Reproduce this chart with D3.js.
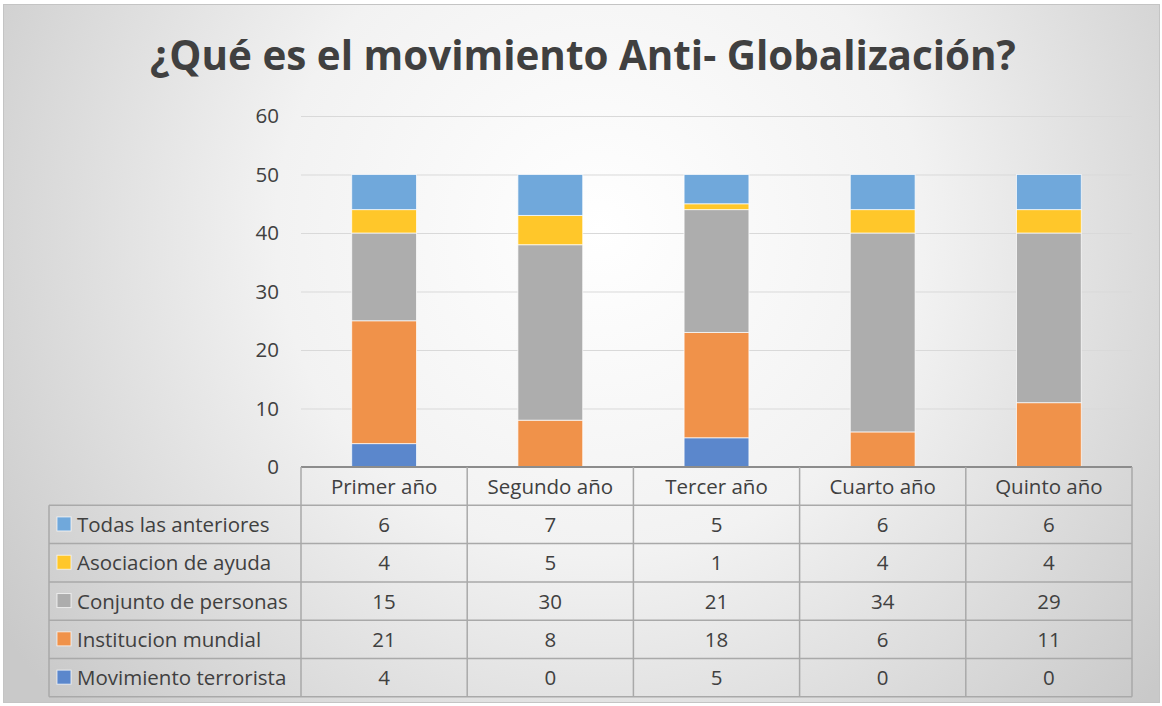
<!DOCTYPE html>
<html>
<head>
<meta charset="utf-8">
<script src="https://cdn.jsdelivr.net/npm/d3@7"></script>
<style>
  body { margin: 0; background: #fff; }
  svg text { font-family: "Open Sans", "Noto Sans", sans-serif; }
</style>
</head>
<body>
<svg id="chart" width="1162" height="706"></svg>
<script>
// data
var title = "¿Qué es el movimiento Anti- Globalización?";
var years = ["Primer año", "Segundo año", "Tercer año", "Cuarto año", "Quinto año"];
// bottom to top in the stack
var series_names = ["Movimiento terrorista", "Institucion mundial", "Conjunto de personas", "Asociacion de ayuda", "Todas las anteriores"];
var movimiento = [4, 0, 5, 0, 0];
var institucion = [21, 8, 18, 6, 11];
var conjunto = [15, 30, 21, 34, 29];
var asociacion = [4, 5, 1, 4, 4];
var todas = [6, 7, 5, 6, 6];
var y_ticks = [0, 10, 20, 30, 40, 50, 60];

var colors = ["#5b87cc", "#f0924a", "#adadad", "#ffc72a", "#70a8db"];
var all_values = [movimiento, institucion, conjunto, asociacion, todas];

var svg = d3.select("#chart");
var W = 1162, H = 706;
var fs = 20.5; // table / label font size

// background: radial gradient like the office chart style
var defs = svg.append("defs");
var grad = defs.append("radialGradient").attr("id", "bg")
  .attr("gradientUnits", "userSpaceOnUse")
  .attr("cx", 600).attr("cy", 230).attr("r", 720);
grad.append("stop").attr("offset", "0%").attr("stop-color", "#ffffff");
grad.append("stop").attr("offset", "45%").attr("stop-color", "#f2f2f2");
grad.append("stop").attr("offset", "100%").attr("stop-color", "#c9c9c9");

svg.append("rect").attr("x", 3.5).attr("y", 4.5).attr("width", 1156).attr("height", 698)
  .attr("fill", "url(#bg)").attr("stroke", "#c4c4c4").attr("stroke-width", 1);

// title
var t = svg.append("text").attr("x", 583).attr("y", 70)
  .attr("text-anchor", "middle")
  .attr("fill", "#404040")
  .style("font-weight", "bold")
  .style("font-size", "40px")
  .text(title);
// squeeze to the reference width
var want = 866;
var got = t.node().getComputedTextLength();
t.style("font-size", (40 * want / got).toFixed(2) + "px");

// plot area
var left = 301, right = 1132, top_y = 116, base_y = 467;
var x = d3.scaleBand().domain(years).range([left, right]);
var y = d3.scaleLinear().domain([0, 60]).range([base_y, top_y]);

// gridlines
svg.append("g").selectAll("line").data(y_ticks.slice(1)).join("line")
  .attr("x1", left).attr("x2", right)
  .attr("y1", function(d) { return y(d) + 0.5; })
  .attr("y2", function(d) { return y(d) + 0.5; })
  .attr("stroke", "#d9d9d9").attr("stroke-width", 1);

// y labels
var yAxis = d3.axisLeft(y).tickValues(y_ticks).tickSize(0).tickPadding(0);
var ya = svg.append("g").attr("transform", "translate(279,0)").call(yAxis);
ya.select(".domain").remove();
ya.selectAll("text")
  .style("font-family", "'Open Sans', 'Noto Sans', sans-serif")
  .style("font-size", fs + "px")
  .attr("fill", "#404040");

// stacked bars
var rows = years.map(function(yr, i) {
  var r = { year: yr };
  series_names.forEach(function(s, k) { r[s] = all_values[k][i]; });
  return r;
});
var stack = d3.stack().keys(series_names)(rows);
var bw = x.bandwidth() * 0.39;

svg.append("g").selectAll("g").data(stack).join("g")
  .attr("fill", function(d, k) { return colors[k]; })
  .selectAll("rect").data(function(d) { return d; }).join("rect")
  .attr("x", function(d) { return x(d.data.year) + (x.bandwidth() - bw) / 2; })
  .attr("width", bw)
  .attr("y", function(d) { return y(d[1]); })
  .attr("height", function(d) { return Math.max(0, y(d[0]) - y(d[1])); })
  .attr("stroke", "rgba(255,255,255,0.7)")
  .attr("stroke-width", 1);

// data table
var row_h = 38.3;
var tbl_left = 49, head_top = base_y, body_top = base_y + row_h;
var table_rows = series_names.slice().reverse();
var grid_col = "#a9a9a9";
var tg = svg.append("g");

// horizontal lines
tg.append("line").attr("x1", left).attr("x2", right).attr("y1", head_top).attr("y2", head_top)
  .attr("stroke", "#8c8c8c").attr("stroke-width", 2);
d3.range(table_rows.length + 1).forEach(function(i) {
  tg.append("line").attr("x1", tbl_left).attr("x2", right)
    .attr("y1", body_top + i * row_h).attr("y2", body_top + i * row_h)
    .attr("stroke", grid_col).attr("stroke-width", 1.5);
});
// vertical lines
tg.append("line").attr("x1", tbl_left).attr("x2", tbl_left)
  .attr("y1", body_top).attr("y2", body_top + table_rows.length * row_h)
  .attr("stroke", grid_col).attr("stroke-width", 1.5);
years.forEach(function(yr) {
  tg.append("line").attr("x1", x(yr)).attr("x2", x(yr))
    .attr("y1", head_top).attr("y2", body_top + table_rows.length * row_h)
    .attr("stroke", grid_col).attr("stroke-width", 1.5);
});
tg.append("line").attr("x1", right).attr("x2", right)
  .attr("y1", head_top).attr("y2", body_top + table_rows.length * row_h)
  .attr("stroke", grid_col).attr("stroke-width", 1.5);

// header
tg.selectAll("text.head").data(years).join("text").attr("class", "head")
  .attr("x", function(d) { return x(d) + x.bandwidth() / 2; })
  .attr("y", head_top + row_h / 2 + 7.5)
  .attr("text-anchor", "middle")
  .attr("fill", "#404040")
  .style("font-size", fs + "px")
  .text(function(d) { return d; });

// body rows
table_rows.forEach(function(name, r) {
  var k = series_names.indexOf(name);
  var cy = body_top + r * row_h + row_h / 2;
  tg.append("rect").attr("x", 57).attr("y", cy - 7.5).attr("width", 14).attr("height", 14)
    .attr("fill", colors[k]).attr("stroke", "rgba(255,255,255,0.7)").attr("stroke-width", 1);
  tg.append("text").attr("x", 77).attr("y", cy + 7.5)
    .attr("fill", "#404040").style("font-size", fs + "px").text(name);
  tg.selectAll("text.v" + k).data(all_values[k]).join("text").attr("class", "v" + k)
    .attr("x", function(d, i) { return x(years[i]) + x.bandwidth() / 2; })
    .attr("y", cy + 7.5)
    .attr("text-anchor", "middle")
    .attr("fill", "#404040")
    .style("font-size", fs + "px")
    .text(function(d) { return d; });
});
</script>
</body>
</html>
